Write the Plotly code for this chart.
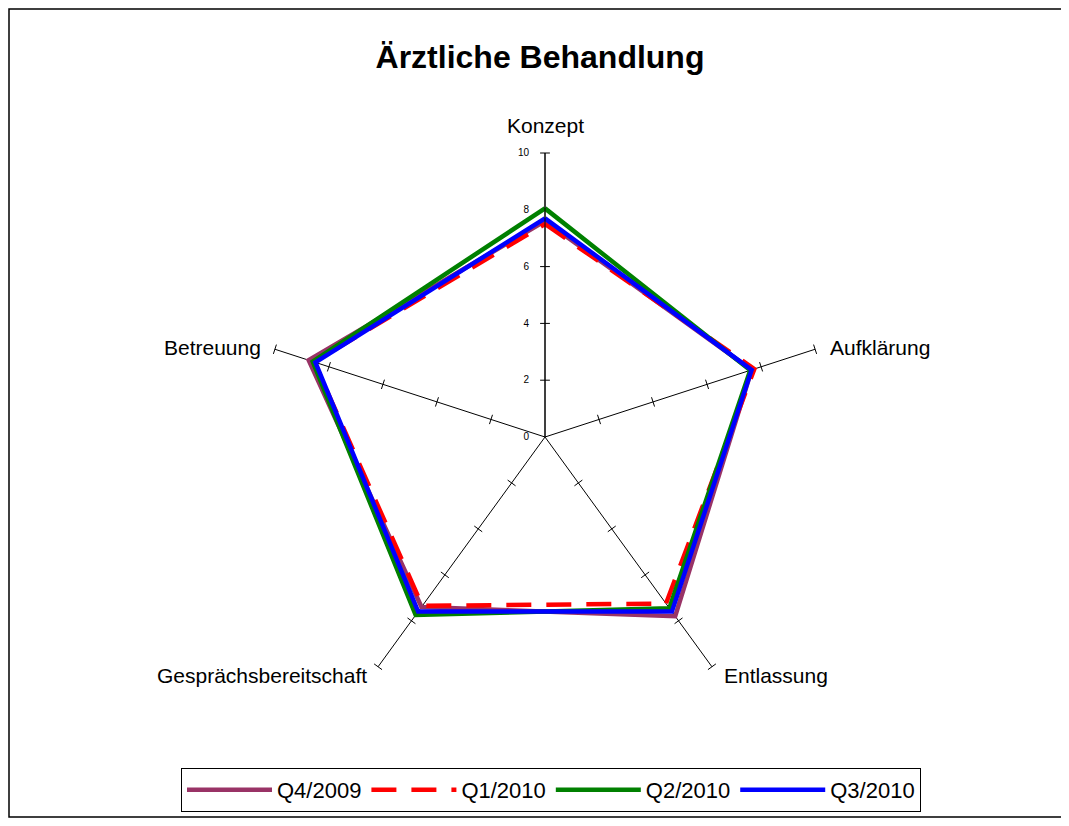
import math
import plotly.graph_objects as go

categories = ["Konzept", "Aufklärung", "Entlassung", "Gesprächsbereitschaft", "Betreuung"]
q4_2009 = [7.6, 7.65, 7.8, 7.4, 8.75]
q1_2010 = [7.5, 7.75, 7.25, 7.35, 8.55]
q2_2010 = [8.05, 7.6, 7.45, 7.75, 8.6]
q3_2010 = [7.7, 7.65, 7.6, 7.6, 8.5]
series_names = ["Q4/2009", "Q1/2010", "Q2/2010", "Q3/2010"]
radial_ticks = [0, 2, 4, 6, 8, 10]

colors = ["#993366", "#FF0000", "#008000", "#0000FF"]
dashes = ["solid", "25px,15px", "solid", "solid"]

W, H = 1060, 810  # page has an 8px body margin
PX0, PX1, PY0, PY1 = 253, 821, 97, 665  # polar domain in px (y from bottom)

fig = go.Figure()

# small tick marks across every spoke
spoke_angles = [90 - i * 360 / len(categories) for i in range(len(categories))]
tr, tt, ta = [], [], []
for cat, ang in zip(categories, spoke_angles):
    for v in radial_ticks[1:]:
        tr.append(v)
        tt.append(cat)
        ta.append(-ang)
fig.add_trace(go.Scatterpolar(
    r=tr, theta=tt, mode="markers",
    marker=dict(symbol="line-ns", size=7, angle=ta, line=dict(color="black", width=1)),
    showlegend=False, hoverinfo="skip"))

for name, vals, c, d in zip(series_names, [q4_2009, q1_2010, q2_2010, q3_2010], colors, dashes):
    fig.add_trace(go.Scatterpolar(
        r=vals + vals[:1], theta=categories + categories[:1], mode="lines",
        name=name, line=dict(color=c, width=4.5, dash=d)))

# category labels placed just beyond the end of each spoke
cx, cy = (PX0 + PX1) / 2, (PY0 + PY1) / 2
rad = (PX1 - PX0) / 2
label_style = [
    ("center", "bottom", 0, 14),
    ("left", "middle", 13, 2),
    ("left", "middle", 10, -9),
    ("right", "middle", -9, -9),
    ("right", "middle", -12, 2),
]
annotations = []
for cat, ang, (xa, ya, xs, ys) in zip(categories, spoke_angles, label_style):
    ex = cx + rad * math.cos(math.radians(ang))
    ey = cy + rad * math.sin(math.radians(ang))
    annotations.append(dict(text=cat, x=ex / W, y=ey / H, xref="paper", yref="paper",
                            xanchor=xa, yanchor=ya, xshift=xs, yshift=ys,
                            showarrow=False, font=dict(size=21)))

fig.update_layout(
    width=W, height=H,
    paper_bgcolor="white", plot_bgcolor="white",
    margin=dict(l=0, r=0, t=0, b=0),
    font=dict(family="Liberation Sans, Arial, sans-serif", color="black"),
    title=dict(text="<b>Ärztliche Behandlung</b>", x=532 / W, xanchor="center",
               y=1 - 49 / H, yanchor="middle", font=dict(size=32)),
    polar=dict(
        domain=dict(x=[PX0 / W, PX1 / W], y=[PY0 / H, PY1 / H]),
        bgcolor="white",
        angularaxis=dict(rotation=90, direction="clockwise", showline=False,
                         ticks="", showticklabels=False,
                         showgrid=True, gridcolor="black", gridwidth=1),
        radialaxis=dict(range=[0, 10], angle=90, tickangle=90, showgrid=False,
                        showline=True, linecolor="black", linewidth=1,
                        tickvals=radial_ticks, ticks="outside", ticklen=12,
                        tickcolor="rgba(0,0,0,0)", tickfont=dict(size=10),
                        side="counterclockwise"),
    ),
    annotations=annotations,
    legend=dict(orientation="h", x=543 / W, xanchor="center", y=28 / H, yanchor="middle",
                bordercolor="black", borderwidth=1, font=dict(size=22),
                itemwidth=85, tracegroupgap=0),
    shapes=[dict(type="rect", xref="paper", yref="paper",
                 x0=1 / W, x1=1 - 1 / W, y0=1 / H, y1=1 - 1 / H,
                 line=dict(color="black", width=1.5))],
)

fig.write_html("out.html")
